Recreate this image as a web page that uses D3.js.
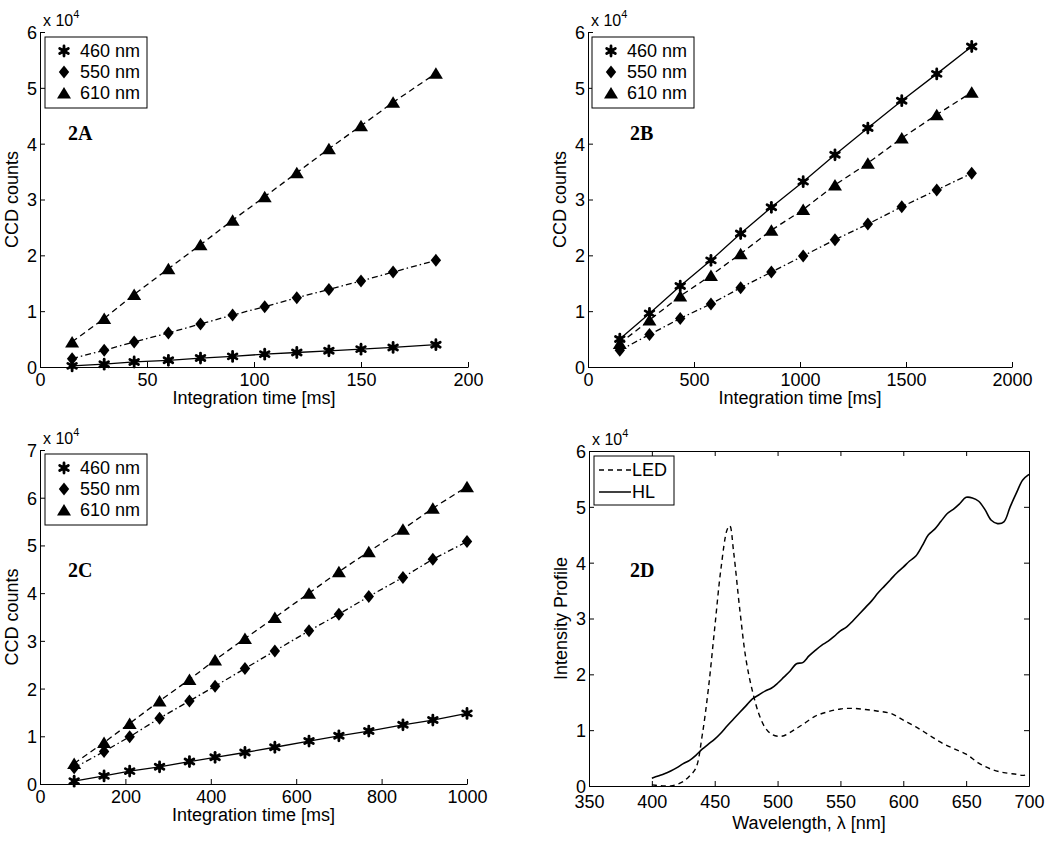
<!DOCTYPE html>
<html><head><meta charset="utf-8">
<script src="https://cdn.jsdelivr.net/npm/d3@7"></script>
<style>
body{margin:0;background:#fff}
svg{display:block}
text{font-family:"Liberation Sans",Arial,Helvetica,sans-serif;fill:#000}
</style>
</head><body>
<svg id="chart" width="1050" height="846"></svg>
<script>
// ---------------- data (counts in units of 10^4) ----------------
const seriesNames = ["460 nm", "550 nm", "610 nm"];

const aTime = [15, 30, 44, 60, 75, 90, 105, 120, 135, 150, 165, 185];
const a460 = [0.02, 0.05, 0.09, 0.12, 0.16, 0.19, 0.23, 0.26, 0.29, 0.32, 0.35, 0.40];
const a550 = [0.15, 0.30, 0.45, 0.61, 0.77, 0.93, 1.08, 1.24, 1.39, 1.54, 1.70, 1.91];
const a610 = [0.45, 0.87, 1.30, 1.76, 2.19, 2.63, 3.05, 3.48, 3.91, 4.32, 4.74, 5.26];

const bTime = [150, 290, 435, 580, 720, 865, 1015, 1165, 1320, 1480, 1645, 1810];
const b460 = [0.50, 0.96, 1.45, 1.91, 2.39, 2.86, 3.32, 3.80, 4.28, 4.77, 5.25, 5.74];
const b550 = [0.30, 0.58, 0.87, 1.13, 1.42, 1.70, 1.99, 2.28, 2.56, 2.87, 3.17, 3.47];
const b610 = [0.42, 0.84, 1.27, 1.64, 2.03, 2.45, 2.82, 3.26, 3.65, 4.10, 4.52, 4.92];

const cTime = [80, 150, 210, 280, 350, 410, 480, 550, 630, 700, 770, 850, 920, 1000];
const c460 = [0.06, 0.17, 0.27, 0.36, 0.47, 0.56, 0.66, 0.77, 0.90, 1.01, 1.11, 1.24, 1.34, 1.48];
const c550 = [0.34, 0.68, 0.99, 1.38, 1.74, 2.05, 2.42, 2.79, 3.21, 3.56, 3.93, 4.33, 4.71, 5.08];
const c610 = [0.43, 0.87, 1.27, 1.74, 2.19, 2.60, 3.05, 3.49, 4.00, 4.45, 4.87, 5.34, 5.78, 6.23];

const ledWave = [400, 405, 410, 415, 420, 425, 430, 435, 440, 445, 450, 455, 460, 462, 465, 470, 475, 480, 485, 490, 495, 500, 505, 510, 515, 520, 530, 540, 550, 560, 570, 580, 590, 600, 610, 620, 630, 640, 650, 660, 670, 680, 690, 695, 700];
const ledVal  = [0.02, 0.01, 0.00, 0.00, 0.03, 0.08, 0.18, 0.32, 0.90, 1.75, 2.83, 3.90, 4.60, 4.66, 4.20, 3.15, 2.25, 1.70, 1.30, 1.05, 0.93, 0.89, 0.90, 0.96, 1.03, 1.10, 1.25, 1.33, 1.38, 1.39, 1.37, 1.34, 1.30, 1.18, 1.06, 0.92, 0.78, 0.67, 0.57, 0.41, 0.30, 0.24, 0.21, 0.19, 0.21];

const hlWave = [400, 405, 410, 415, 420, 425, 430, 435, 440, 445, 450, 455, 460, 465, 470, 475, 480, 485, 490, 495, 500, 505, 510, 515, 520, 525, 530, 535, 540, 545, 550, 555, 560, 565, 570, 575, 580, 585, 590, 595, 600, 605, 610, 615, 620, 625, 630, 635, 640, 645, 650, 655, 660, 665, 670, 675, 680, 685, 690, 695, 700];
const hlVal  = [0.14, 0.18, 0.22, 0.27, 0.33, 0.40, 0.46, 0.55, 0.66, 0.75, 0.84, 0.95, 1.08, 1.20, 1.32, 1.44, 1.56, 1.63, 1.70, 1.75, 1.84, 1.95, 2.06, 2.19, 2.21, 2.33, 2.43, 2.52, 2.59, 2.68, 2.78, 2.85, 2.96, 3.08, 3.20, 3.32, 3.46, 3.58, 3.70, 3.82, 3.92, 4.03, 4.12, 4.30, 4.50, 4.60, 4.74, 4.88, 4.96, 5.06, 5.17, 5.16, 5.10, 4.95, 4.76, 4.70, 4.73, 5.00, 5.25, 5.48, 5.58];

const yTicks6 = [0, 1, 2, 3, 4, 5, 6];
const yTicks7 = [0, 1, 2, 3, 4, 5, 6, 7];
const aXTicks = [0, 50, 100, 150, 200];
const bXTicks = [0, 500, 1000, 1500, 2000];
const cXTicks = [0, 200, 400, 600, 800, 1000];
const dXTicks = [350, 400, 450, 500, 550, 600, 650, 700];

// ---------------- drawing ----------------
const svg = d3.select("#chart");
svg.append("rect").attr("width", 1050).attr("height", 846).attr("fill", "#fff");
const fmt = d3.format("d");

const lineStyles = {
  "460 nm": null,
  "550 nm": "6,3,1.5,3",
  "610 nm": "6,4"
};

function markerPath(name) {
  const p = d3.path();
  if (name === "550 nm") {
    p.moveTo(0, -6.5); p.lineTo(5.2, 0); p.lineTo(0, 6.5); p.lineTo(-5.2, 0); p.closePath();
  } else if (name === "610 nm") {
    p.moveTo(0, -6); p.lineTo(7, 5.5); p.lineTo(-7, 5.5); p.closePath();
  }
  return p.toString();
}

function drawMarker(g, name, cx, cy) {
  const m = g.append("g").attr("transform", `translate(${cx},${cy})`);
  if (name === "460 nm") {
    for (let k = 0; k < 3; k++) {
      const ang = (90 + k * 60) * Math.PI / 180;
      const dx = Math.cos(ang) * 5, dy = Math.sin(ang) * 5;
      m.append("line").attr("x1", -dx).attr("y1", -dy).attr("x2", dx).attr("y2", dy)
        .attr("stroke", "#000").attr("stroke-width", 2.8).attr("stroke-linecap", "round");
    }
    m.append("circle").attr("r", 3).attr("fill", "#000");
  } else {
    m.append("path").attr("d", markerPath(name)).attr("fill", "#000");
  }
}

function drawPanel(opt) {
  const g = svg.append("g");
  const x = d3.scaleLinear().domain(opt.xDomain).range([opt.left, opt.right]);
  const y = d3.scaleLinear().domain(opt.yDomain).range([opt.bottom, opt.top]);

  const xAxis = d3.axisBottom(x).tickValues(opt.xTicks).tickFormat(fmt)
    .tickSizeInner(-5).tickSizeOuter(0).tickPadding(opt.xPad || 6);
  const yAxis = d3.axisLeft(y).tickValues(opt.yTicks).tickFormat(fmt)
    .tickSizeInner(-5).tickSizeOuter(0).tickPadding(3);

  const gx = g.append("g").attr("transform", `translate(0,${opt.bottom})`).call(xAxis);
  const gy = g.append("g").attr("transform", `translate(${opt.left},0)`).call(yAxis);
  [gx, gy].forEach(a => {
    a.selectAll("text").style("font-size", "18px").attr("fill", "#000");
    a.selectAll("path,line").attr("stroke", "#000").attr("stroke-width", 1);
    a.attr("font-family", null).attr("font-size", null);
  });
  gy.selectAll("text").attr("dy", "0.36em");

  if (opt.box) {
    const gt = g.append("g").attr("transform", `translate(0,${opt.top})`)
      .call(d3.axisTop(x).tickValues(opt.xTicks).tickSizeInner(-5).tickSizeOuter(0).tickFormat(""));
    const gr = g.append("g").attr("transform", `translate(${opt.right},0)`)
      .call(d3.axisRight(y).tickValues(opt.yTicks).tickSizeInner(-5).tickSizeOuter(0).tickFormat(""));
    [gt, gr].forEach(a => a.selectAll("path,line").attr("stroke", "#000").attr("stroke-width", 1));
  }

  // exponent label
  const ex = g.append("text").attr("x", opt.left + 3).attr("y", opt.top - 6).style("font-size", "16px");
  ex.append("tspan").text("x 10");
  ex.append("tspan").attr("dy", -8).style("font-size", "11px").text("4");

  // axis titles
  g.append("text").attr("x", (opt.left + opt.right) / 2).attr("y", opt.bottom + (opt.titleGap || 37))
    .attr("text-anchor", "middle").style("font-size", "18px").text(opt.xTitle);
  g.append("text").attr("transform", `translate(${opt.left - 22},${(opt.top + opt.bottom) / 2}) rotate(-90)`)
    .attr("text-anchor", "middle").style("font-size", "18px").text(opt.yTitle);

  // data
  const lineGen = d3.line().x(d => x(d[0])).y(d => y(d[1]));
  opt.series.forEach(s => {
    const pts = s.xs.map((v, i) => [v, s.ys[i]]);
    if (s.curve) lineGen.curve(d3.curveCatmullRom.alpha(0.5)); else lineGen.curve(d3.curveLinear);
    g.append("path").datum(pts).attr("d", lineGen).attr("fill", "none")
      .attr("stroke", "#000").attr("stroke-width", s.width || 1.3)
      .attr("stroke-dasharray", s.dash);
    if (s.marker) pts.forEach(p => drawMarker(g, s.name, x(p[0]), y(p[1])));
  });

  // legend
  const L = opt.legend;
  g.append("rect").attr("x", L.x).attr("y", L.y).attr("width", L.w).attr("height", L.h)
    .attr("fill", "#fff").attr("stroke", "#000").attr("stroke-width", 1);
  opt.series.forEach((s, i) => {
    const cy = L.y + 14 + i * L.row;
    if (s.marker) {
      drawMarker(g, s.name, L.x + 19, cy);
      g.append("text").attr("x", L.x + 35).attr("y", cy).attr("dy", "0.36em")
        .style("font-size", "18px").text(s.name);
    } else {
      g.append("line").attr("x1", L.x + 5).attr("x2", L.x + 37).attr("y1", cy).attr("y2", cy)
        .attr("stroke", "#000").attr("stroke-width", 1.5).attr("stroke-dasharray", s.dash);
      g.append("text").attr("x", L.x + 38).attr("y", cy).attr("dy", "0.36em")
        .style("font-size", "18px").text(s.name);
    }
  });

  // panel tag
  g.append("text").attr("x", opt.tag.x).attr("y", opt.tag.y)
    .style("font-family", "'Liberation Serif','Times New Roman',serif").style("font-weight", "bold")
    .style("font-size", "20px").text(opt.tag.text);
}

function threeSeries(xs, s460, s550, s610) {
  return [
    {name: seriesNames[0], xs: xs, ys: s460, dash: lineStyles["460 nm"], marker: true},
    {name: seriesNames[1], xs: xs, ys: s550, dash: lineStyles["550 nm"], marker: true},
    {name: seriesNames[2], xs: xs, ys: s610, dash: lineStyles["610 nm"], marker: true}
  ];
}

drawPanel({
  left: 40, right: 468, top: 32, bottom: 367,
  xDomain: [0, 200], yDomain: [0, 6], xTicks: aXTicks, yTicks: yTicks6,
  xTitle: "Integration time [ms]", yTitle: "CCD counts",
  series: threeSeries(aTime, a460, a550, a610),
  legend: {x: 45, y: 37, w: 102, h: 71, row: 21},
  tag: {x: 68, y: 140, text: "2A"}
});

drawPanel({
  left: 588, right: 1012, top: 32, bottom: 367,
  xDomain: [0, 2000], yDomain: [0, 6], xTicks: bXTicks, yTicks: yTicks6,
  xTitle: "Integration time [ms]", yTitle: "CCD counts",
  series: threeSeries(bTime, b460, b550, b610),
  legend: {x: 592, y: 37, w: 102, h: 71, row: 21},
  tag: {x: 630, y: 140, text: "2B"}
});

drawPanel({
  left: 40, right: 467, top: 450, bottom: 784,
  xDomain: [0, 1000], yDomain: [0, 7], xTicks: cXTicks, yTicks: yTicks7,
  xTitle: "Integration time [ms]", yTitle: "CCD counts",
  series: threeSeries(cTime, c460, c550, c610),
  legend: {x: 45, y: 454, w: 102, h: 71, row: 21},
  tag: {x: 68, y: 577, text: "2C"}
});

drawPanel({
  left: 589, right: 1029, top: 451, bottom: 786,
  xDomain: [350, 700], yDomain: [0, 6], xTicks: dXTicks, yTicks: yTicks6, box: true,
  xPad: 9, titleGap: 43,
  xTitle: "Wavelength, \u03bb [nm]", yTitle: "Intensity Profile",
  series: [
    {name: "LED", xs: ledWave, ys: ledVal, dash: "5,4", marker: false, curve: true, width: 1.4},
    {name: "HL", xs: hlWave, ys: hlVal, dash: null, marker: false, curve: true, width: 1.6}
  ],
  legend: {x: 594, y: 456, w: 80, h: 49, row: 22},
  tag: {x: 630, y: 577, text: "2D"}
});
</script>
</body></html>
